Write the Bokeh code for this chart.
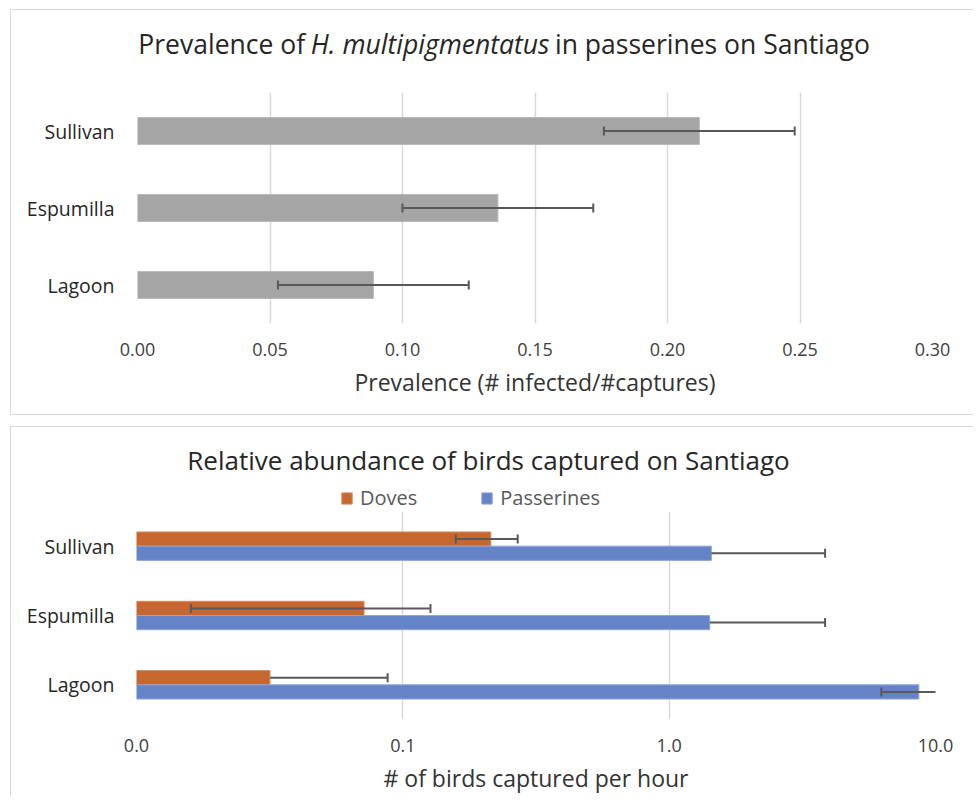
import numpy as np
from bokeh.plotting import figure
from bokeh.models import (ColumnDataSource, FactorRange, Range1d, FixedTicker,
                          NumeralTickFormatter, Legend, LegendItem)
from bokeh.core.properties import value
from bokeh.layouts import column
from bokeh.transform import dodge
from bokeh.embed import file_html
from bokeh.resources import INLINE

# ---------------- data ----------------
sites = ["Sullivan", "Espumilla", "Lagoon"]
prevalence = [0.212, 0.136, 0.089]
prevalence_err = [0.036, 0.036, 0.036]

doves = [0.214, 0.0715, 0.0317]
doves_err = [0.056, 0.0555, 0.056]
passerines = [1.44, 1.42, 8.66]
passerines_err = [2.41, 2.43, 2.40]

prev_ticks = [0.0, 0.05, 0.10, 0.15, 0.20, 0.25, 0.30]
abund_ticks = [0.01, 0.1, 1.0, 10.0]

title1_parts = ["Prevalence of", "H. multipigmentatus", "in passerines on Santiago"]
title2 = "Relative abundance of birds captured on Santiago"
series_names = ["Doves", "Passerines"]

FONT = "Open Sans"
ERR_COLOR = "#595959"
GRID_COLOR = "#D9D9D9"
BORDER = "1px solid #D9D9D9"
DOVE_FILL, DOVE_LINE = "#C5672F", "#D88A5A"
PASS_FILL, PASS_LINE = "#6584C8", "#8EA6DC"
W = 962


def err_sources(cats, vals, errs):
    vals = np.array(vals, dtype=float)
    errs = np.array(errs, dtype=float)
    lo_raw = vals - errs
    ok = lo_raw > 0
    lo = np.where(ok, lo_raw, vals)
    hi = vals + errs
    seg = ColumnDataSource(dict(site=list(cats), lo=lo, hi=hi))
    lo_caps = ColumnDataSource(dict(site=[c for c, k in zip(cats, ok) if k],
                                    x=[v for v, k in zip(lo_raw, ok) if k]))
    return seg, lo_caps


def style_common(p):
    p.outline_line_color = None
    p.ygrid.grid_line_color = None
    p.xgrid.grid_line_color = GRID_COLOR
    p.xgrid.grid_line_width = 1.5
    p.xaxis.axis_line_color = None
    p.xaxis.major_tick_line_color = None
    p.xaxis.minor_tick_line_color = None
    p.xaxis.major_tick_out = 0
    p.xaxis.major_tick_in = 0
    p.xaxis.major_label_text_font = FONT
    p.xaxis.major_label_text_font_size = "18px"
    p.xaxis.major_label_text_color = "#404040"
    p.xaxis.major_label_standoff = 19
    p.xaxis.axis_label_text_font = FONT
    p.xaxis.axis_label_text_font_size = "23px"
    p.xaxis.axis_label_text_font_style = "normal"
    p.xaxis.axis_label_text_color = "#333333"
    p.xaxis.axis_label_standoff = 7
    p.yaxis.axis_line_color = None
    p.yaxis.major_tick_line_color = None
    p.yaxis.minor_tick_line_color = None
    p.yaxis.major_tick_out = 0
    p.yaxis.major_tick_in = 0
    p.yaxis.major_label_text_font = FONT
    p.yaxis.major_label_text_font_size = "19.5px"
    p.yaxis.major_label_text_color = "#262626"
    p.background_fill_color = "white"
    p.border_fill_color = "white"


def strip(height, x0, x1):
    # text strip; its frame is aligned with the chart frame below it,
    # so its x range is expressed in page pixels of that frame
    s = figure(width=W, height=height, x_range=Range1d(x0, x1), y_range=Range1d(0, height),
               x_axis_location=None, y_axis_location=None, title=None,
               output_backend="svg", toolbar_location=None,
               min_border=0, min_border_left=0, min_border_right=0,
               min_border_top=0, min_border_bottom=0)
    s.grid.visible = False
    s.outline_line_color = None
    s.background_fill_color = "white"
    s.border_fill_color = "white"
    return s


title_kw = dict(text_font=value(FONT), text_color="#262626", text_baseline="middle")

# ---------------- top panel ----------------
t1 = strip(60, 137, 932)
t1.text(x=[304.6], y=[27], text=[title1_parts[0]], text_align="right",
        text_font_size="26.5px", **title_kw)
t1.text(x=[429.6], y=[27], text=[title1_parts[1]], text_align="center",
        text_font_style="italic", text_font_size="26.5px", **title_kw)
t1.text(x=[554.5], y=[27], text=[title1_parts[2]], text_align="left",
        text_font_size="26.5px", **title_kw)

p1 = figure(width=W, height=344, title=None,
            y_range=FactorRange(factors=sites[::-1], range_padding=0),
            x_range=Range1d(0, 0.30),
            output_backend="svg", toolbar_location=None,
            min_border_left=126, min_border_right=41,
            min_border_top=22, min_border_bottom=91)
style_common(p1)
p1.xaxis.ticker = FixedTicker(ticks=prev_ticks, minor_ticks=[])
p1.xgrid.ticker = FixedTicker(ticks=prev_ticks, minor_ticks=[])
p1.xaxis.formatter = NumeralTickFormatter(format="0.00")
p1.xaxis.axis_label = "Prevalence (# infected/#captures)"
p1.yaxis.major_label_standoff = 23

src1 = ColumnDataSource(dict(site=sites, value=prevalence))
p1.hbar(y="site", left=0, right="value", height=0.35, source=src1,
        fill_color="#A5A5A5", line_color="#B8B8B8", line_width=1)
seg1, caps1 = err_sources(sites, prevalence, prevalence_err)
p1.segment(x0="lo", y0="site", x1="hi", y1="site", source=seg1,
           line_color=ERR_COLOR, line_width=2)
p1.scatter(x="hi", y="site", source=seg1, marker="dash", angle=np.pi / 2,
           size=9, line_color=ERR_COLOR, line_width=2)
p1.scatter(x="x", y="site", source=caps1, marker="dash", angle=np.pi / 2,
           size=9, line_color=ERR_COLOR, line_width=2)

panel1 = column(t1, p1, spacing=0, margin=(9, 0, 0, 10),
                styles={"border-left": BORDER, "border-top": BORDER,
                        "border-bottom": BORDER})

# ---------------- bottom panel ----------------
t2 = strip(84, 136, 935)
t2.text(x=[488], y=[52], text=[title2], text_align="center",
        text_font_size="26px", **title_kw)
# legend swatches: zero-size proxies styled like the bars below
proxy_d = t2.hbar(y=[0], left=[0], right=[0], height=0,
                  fill_color=DOVE_FILL, line_color=DOVE_LINE)
proxy_p = t2.hbar(y=[0], left=[0], right=[0], height=0,
                  fill_color=PASS_FILL, line_color=PASS_LINE)
legend = Legend(items=[LegendItem(label=series_names[0], renderers=[proxy_d]),
                       LegendItem(label=series_names[1], renderers=[proxy_p])],
                orientation="horizontal", location=(204, 0),
                border_line_color=None, background_fill_alpha=0,
                padding=0, margin=0, spacing=63,
                glyph_width=13, glyph_height=14, label_standoff=7,
                label_text_font=FONT, label_text_font_size="20px",
                label_text_color="#595959")
t2.add_layout(legend)

p2 = figure(width=W, height=285, x_axis_type="log", title=None,
            y_range=FactorRange(factors=sites[::-1], range_padding=0),
            x_range=Range1d(0.01, 10),
            output_backend="svg", toolbar_location=None,
            min_border_left=125, min_border_right=38,
            min_border_top=0, min_border_bottom=75)
style_common(p2)
p2.xaxis.ticker = FixedTicker(ticks=abund_ticks, minor_ticks=[])
p2.xgrid.ticker = FixedTicker(ticks=abund_ticks, minor_ticks=[])
p2.xaxis.formatter = NumeralTickFormatter(format="0.0")
p2.xaxis.axis_label = "# of birds captured per hour"
p2.yaxis.major_label_standoff = 22

OFF = 0.1025
BH = 0.205
src_d = ColumnDataSource(dict(site=sites, value=doves))
src_p = ColumnDataSource(dict(site=sites, value=passerines))
p2.hbar(y=dodge("site", OFF, range=p2.y_range), left=0.01, right="value",
        height=BH, source=src_d, fill_color=DOVE_FILL, line_color=DOVE_LINE, line_width=1)
p2.hbar(y=dodge("site", -OFF, range=p2.y_range), left=0.01, right="value",
        height=BH, source=src_p, fill_color=PASS_FILL, line_color=PASS_LINE, line_width=1)

for vals, errs, off in ((doves, doves_err, OFF), (passerines, passerines_err, -OFF)):
    seg, caps = err_sources(sites, vals, errs)
    p2.segment(x0="lo", y0=dodge("site", off, range=p2.y_range), x1="hi",
               y1=dodge("site", off, range=p2.y_range), source=seg,
               line_color=ERR_COLOR, line_width=2)
    p2.scatter(x="hi", y=dodge("site", off, range=p2.y_range), source=seg,
               marker="dash", angle=np.pi / 2, size=9, line_color=ERR_COLOR, line_width=2)
    p2.scatter(x="x", y=dodge("site", off, range=p2.y_range), source=caps,
               marker="dash", angle=np.pi / 2, size=9, line_color=ERR_COLOR, line_width=2)

panel2 = column(t2, p2, spacing=0, margin=(11, 0, 0, 10),
                styles={"border-left": BORDER, "border-top": BORDER})

layout = column(panel1, panel2, spacing=0)
open("out.html", "w").write(file_html(layout, INLINE))
